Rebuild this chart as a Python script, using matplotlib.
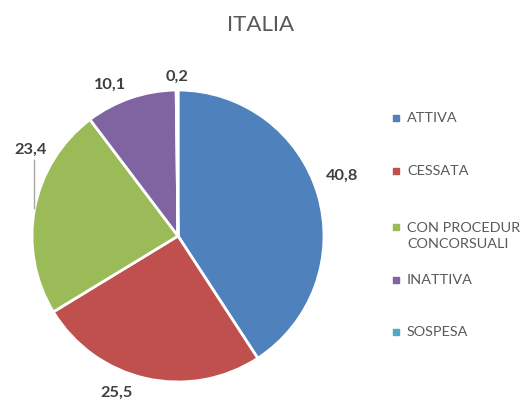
import matplotlib
matplotlib.use("Agg")
import matplotlib.pyplot as plt

categories = ["ATTIVA", "CESSATA", "CON PROCEDUR\nCONCORSUALI", "INATTIVA", "SOSPESA"]
values = [40.8, 25.5, 23.4, 10.1, 0.2]
value_labels = ["40,8", "25,5", "23,4", "10,1", "0,2"]
colors = ["#4F81BD", "#C0504D", "#9BBB59", "#8064A2", "#4BACC6"]

plt.rcParams["font.family"] = ["Lato", "DejaVu Sans"]

fig = plt.figure(figsize=(5.22, 4.08), dpi=100)
ax = fig.add_axes([0, 0, 1, 1])

# pie in pixel coordinates (y up)
ax.pie(values, colors=colors, startangle=90, counterclock=False,
       center=(178, 172), radius=146, frame=True,
       wedgeprops=dict(edgecolor="white", linewidth=2))
ax.set_xlim(0, 522)
ax.set_ylim(0, 408)
ax.set_aspect("equal")
ax.axis("off")

# data labels
label_pos = [(342, 232), (117, 15), (31, 258), (110, 323), (177, 331)]
for (x, y), t in zip(label_pos, value_labels):
    ax.text(x, y, t, ha="center", va="center", fontsize=11.8,
            fontweight="bold", color="#404040")
ax.plot([34, 34], [248, 200], color="#A6A6A6", lw=1)

ax.text(261, 383, "ITALIA", ha="center", va="center", fontsize=16, color="#595959")

# legend
leg_y = [290, 237, 172, 128, 76]
for y, c, t in zip(leg_y, colors, categories):
    first_line_y = y + (9 if "\n" in t else 0)
    ax.scatter([396], [first_line_y], marker="s", s=22, color=c)
    ax.text(407, y, t, ha="left", va="center", fontsize=10.4,
            color="#595959", linespacing=1.35)

fig.savefig("out.png", dpi=100)
